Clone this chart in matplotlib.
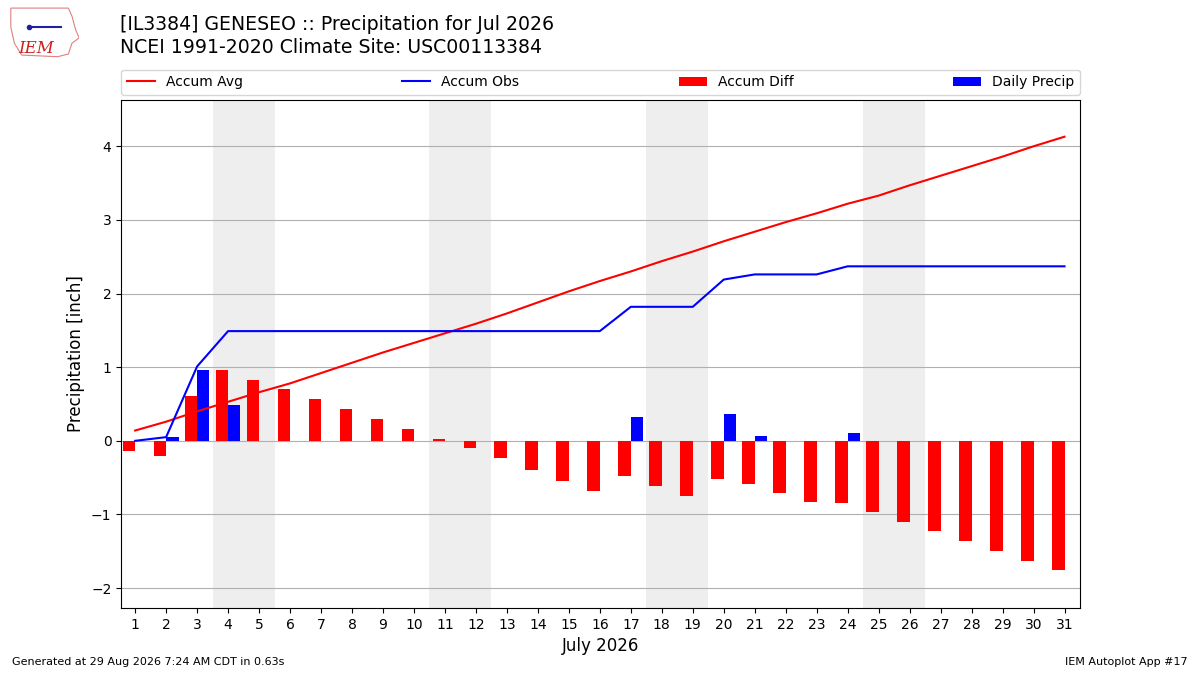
import numpy as np
import matplotlib.pyplot as plt
from matplotlib.patches import Polygon

days = np.arange(1, 32)
daily_precip = [0.00, 0.05, 0.96, 0.48, 0.00, 0.00, 0.00, 0.00, 0.00, 0.00,
                0.00, 0.00, 0.00, 0.00, 0.00, 0.00, 0.33, 0.00, 0.00, 0.37,
                0.07, 0.00, 0.00, 0.11, 0.00, 0.00, 0.00, 0.00, 0.00, 0.00,
                0.00]
accum_avg = [0.14, 0.26, 0.40, 0.53, 0.66, 0.78, 0.92, 1.06, 1.20, 1.33,
             1.46, 1.59, 1.73, 1.88, 2.03, 2.17, 2.30, 2.44, 2.57, 2.71,
             2.84, 2.97, 3.09, 3.22, 3.33, 3.47, 3.60, 3.73, 3.86, 4.00,
             4.13]
weekend_days = [4, 5, 11, 12, 18, 19, 25, 26]

accum_obs = np.cumsum(daily_precip)
accum_diff = accum_obs - np.array(accum_avg)

fig = plt.figure(figsize=(12, 6.75), dpi=100)
ax = fig.add_axes([0.101, 0.0993, 0.799, 0.7527])

for d in weekend_days:
    ax.axvspan(d - 0.5, d + 0.5, color='#eeeeee', zorder=0, lw=0)

ax.plot(days, accum_avg, color='r', label='Accum Avg', zorder=3)
ax.plot(days, accum_obs, color='b', label='Accum Obs', zorder=3)
ax.bar(days, accum_diff, width=-0.4, align='edge', color='r',
       label='Accum Diff', zorder=2)
ax.bar(days, daily_precip, width=0.4, align='edge', color='b',
       label='Daily Precip', zorder=2)

ax.set_xticks(days)
ax.set_xlim(0.55, 31.5)
ax.set_ylim(-2.27, 4.63)
ax.grid(axis='y', color='#b0b0b0', zorder=1)
ax.set_axisbelow(True)
ax.set_xlabel('July 2026', fontsize=12)
ax.set_ylabel('Precipitation [inch]', fontsize=12)
ax.legend(bbox_to_anchor=(0, 1.01, 1, 0.05), loc='lower left', ncol=4,
          mode='expand', borderaxespad=0, fontsize=10)

fig.text(0.1, 0.963, '[IL3384] GENESEO :: Precipitation for Jul 2026',
         fontsize=13.6, va='center')
fig.text(0.1, 0.93, 'NCEI 1991-2020 Climate Site: USC00113384',
         fontsize=13.6, va='center')
fig.text(0.01, 0.015, 'Generated at 29 Aug 2026 7:24 AM CDT in 0.63s',
         fontsize=8)
fig.text(0.99, 0.015, 'IEM Autoplot App #17', fontsize=8, ha='right')

# rough IEM logo
logo = fig.add_axes([0.006, 0.912, 0.06, 0.08])
logo.axis('off')
logo.set_xlim(0, 1)
logo.set_ylim(0, 1)
outline = [(0.05, 0.95), (0.85, 0.95), (0.9, 0.8), (0.95, 0.55), (1.0, 0.4),
           (0.9, 0.3), (0.85, 0.1), (0.7, 0.05), (0.2, 0.08), (0.1, 0.3),
           (0.05, 0.6)]
logo.add_patch(Polygon(outline, closed=True, fill=False, ec='#e08080', lw=0.8))
logo.plot([0.3, 0.75], [0.6, 0.6], color='#2020a0', lw=1.5)
logo.plot([0.3], [0.6], 'o', color='#2020a0', ms=3)
logo.text(0.15, 0.12, 'IEM', color='#cc2020', fontsize=12, style='italic',
          family='DejaVu Serif')

fig.savefig('out.png', dpi=100)
